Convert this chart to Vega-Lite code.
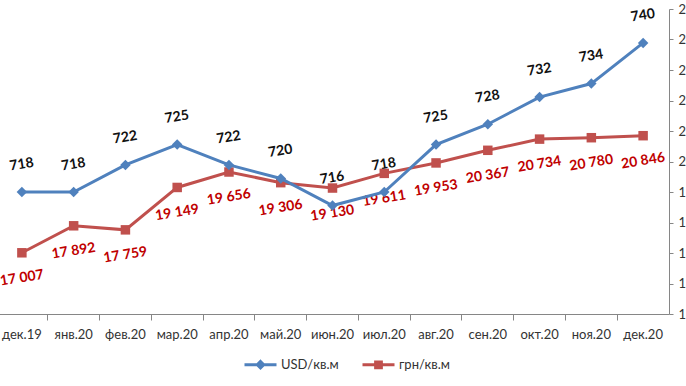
{
  "$schema": "https://vega.github.io/schema/vega-lite/v6.json",
  "usermeta": {"embedOptions": {"actions": false}},
  "autosize": {"type": "none"},
  "width": 673,
  "height": 305,
  "padding": {"left": -4, "top": 9, "right": 17, "bottom": 72},
  "background": "white",
  "config": {
    "view": {"stroke": null},
    "font": "Lato",
    "locale": {"number": {"decimal": ",", "thousands": " ", "grouping": [3], "currency": ["", ""]}}
  },
  "data": {"values": [
    {"month": "дек.19", "usd": 718, "grn": 17007},
    {"month": "янв.20", "usd": 718, "grn": 17892},
    {"month": "фев.20", "usd": 722, "grn": 17759},
    {"month": "мар.20", "usd": 725, "grn": 19149},
    {"month": "апр.20", "usd": 722, "grn": 19656},
    {"month": "май.20", "usd": 720, "grn": 19306},
    {"month": "июн.20", "usd": 716, "grn": 19130},
    {"month": "июл.20", "usd": 718, "grn": 19611},
    {"month": "авг.20", "usd": 725, "grn": 19953},
    {"month": "сен.20", "usd": 728, "grn": 20367},
    {"month": "окт.20", "usd": 732, "grn": 20734},
    {"month": "ноя.20", "usd": 734, "grn": 20780},
    {"month": "дек.20", "usd": 740, "grn": 20846}
  ]},
  "encoding": {
    "x": {
      "field": "month", "type": "ordinal", "sort": null,
      "scale": {"type": "band", "paddingInner": 0, "paddingOuter": 0},
      "axis": {
        "title": null, "labelAngle": 0, "bandPosition": 0,
        "domainColor": "#868686", "tickColor": "#868686", "tickSize": 6,
        "labelFont": "Lato", "labelFontSize": 13, "labelColor": "#333333", "labelPadding": 8,
        "labelBound": false, "labelOverlap": false
      }
    }
  },
  "layer": [
    {
      "encoding": {"y": {"field": "grn", "type": "quantitative", "scale": {"domain": [15000, 25000], "nice": false, "zero": false},
        "axis": {"orient": "right", "title": null, "grid": false, "values": [15000,16000,17000,18000,19000,20000,21000,22000,23000,24000,25000],
          "format": ",d", "domainColor": "#868686", "tickColor": "#868686", "tickSize": 4, "labelPadding": 5,
          "labelFont": "Lato", "labelFontSize": 13, "labelColor": "#333333", "labelBaseline": "middle"}}},
      "layer": [
        {"mark": {"type": "line", "strokeWidth": 3, "color": "#C0504D"}},
        {"mark": {"type": "point", "shape": "square", "filled": true, "size": 90, "opacity": 1, "color": "#C0504D"}},
        {"mark": {"type": "text", "angle": -9, "dy": 25, "dx": -4, "fontSize": 14, "fontWeight": "bold", "color": "#C00000", "baseline": "middle", "align": "center"},
         "encoding": {"text": {"field": "grn", "type": "quantitative", "format": ",d"}}}
      ]
    },
    {
      "encoding": {"y": {"field": "usd", "type": "quantitative", "scale": {"domain": [700, 745], "nice": false, "zero": false}, "axis": null}},
      "layer": [
        {"mark": {"type": "line", "strokeWidth": 3, "color": "#4F81BD"}},
        {"mark": {"type": "point", "shape": "diamond", "filled": true, "size": 110, "opacity": 1, "color": "#4F81BD"}},
        {"mark": {"type": "text", "angle": -9, "dy": -27, "dx": 4, "fontSize": 14, "fontWeight": "bold", "color": "#111111", "baseline": "middle", "align": "center"},
         "encoding": {"text": {"field": "usd", "type": "quantitative"}}},
        {"transform": [{"filter": "datum.usd < 0"}],
         "mark": {"type": "point", "filled": false, "opacity": 1, "strokeWidth": 3},
         "encoding": {
           "color": {"datum": "USD/кв.м", "type": "nominal",
             "scale": {"domain": ["USD/кв.м", "грн/кв.м"], "range": ["#4F81BD", "#C0504D"]},
             "legend": {
               "title": null, "orient": "none", "direction": "horizontal", "legendX": 247, "legendY": 338,
               "symbolSize": 1024, "labelFont": "Lato", "labelFontSize": 13, "labelColor": "#333333",
               "labelOffset": 3, "columnPadding": 17, "symbolStrokeWidth": 3
             }},
           "shape": {"datum": "USD/кв.м", "type": "nominal",
             "scale": {"domain": ["USD/кв.м", "грн/кв.м"], "range": ["M-1,0L1,0M0,-0.2L0.2,0L0,0.2L-0.2,0Z", "M-1,0L1,0M-0.18,-0.18L0.18,-0.18L0.18,0.18L-0.18,0.18Z"]},
             "legend": {
               "title": null, "orient": "none", "direction": "horizontal", "legendX": 247, "legendY": 338,
               "symbolSize": 1024, "labelFont": "Lato", "labelFontSize": 13, "labelColor": "#333333",
               "labelOffset": 3, "columnPadding": 17, "symbolStrokeWidth": 3
             }}
         }}
      ]
    }
  ],
  "resolve": {"scale": {"y": "independent"}}
}
